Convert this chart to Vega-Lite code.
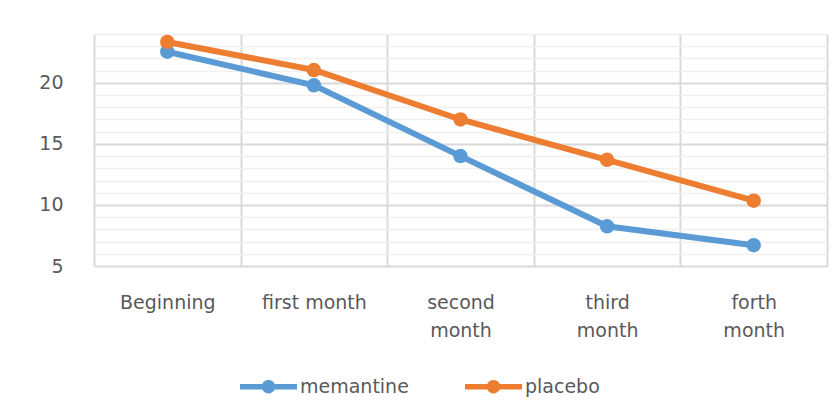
{
  "$schema": "https://vega.github.io/schema/vega-lite/v6.json",
  "width": 733,
  "height": 232,
  "autosize": "none",
  "padding": {"left": 94, "top": 34, "right": 12, "bottom": 143},
  "background": "white",
  "config": {"view": {"stroke": null}, "font": "DejaVu Sans"},
  "data": {
    "values": [
      {"period": "Beginning", "group": "memantine", "score": 22.55},
      {"period": "first month", "group": "memantine", "score": 19.8},
      {"period": "second month", "group": "memantine", "score": 14.0},
      {"period": "third month", "group": "memantine", "score": 8.25},
      {"period": "forth month", "group": "memantine", "score": 6.7},
      {"period": "Beginning", "group": "placebo", "score": 23.35},
      {"period": "first month", "group": "placebo", "score": 21.05},
      {"period": "second month", "group": "placebo", "score": 17.0},
      {"period": "third month", "group": "placebo", "score": 13.7},
      {"period": "forth month", "group": "placebo", "score": 10.35}
    ]
  },
  "encoding": {
    "x": {
      "field": "period",
      "type": "nominal",
      "sort": ["Beginning", "first month", "second month", "third month", "forth month"],
      "scale": {"type": "band", "paddingInner": 0, "paddingOuter": 0},
      "axis": {
        "title": null,
        "grid": true,
        "tickBand": "extent",
        "ticks": false,
        "domain": false,
        "labelAngle": 0,
        "labelFontSize": 19,
        "labelColor": "#595959",
        "labelPadding": 27,
        "labelLineHeight": 28,
        "labelOverlap": false,
        "labelFlush": false,
        "labelBound": false,
        "labelExpr": "indexof(['second month','third month','forth month'], datum.label) >= 0 ? split(datum.label, ' ') : datum.label",
        "gridColor": "#d9d9d9",
        "gridWidth": 2
      }
    },
    "y": {
      "field": "score",
      "type": "quantitative",
      "scale": {"domain": [5, 24], "nice": false, "zero": false},
      "axis": {
        "title": null,
        "values": [5, 6, 7, 8, 9, 10, 11, 12, 13, 14, 15, 16, 17, 18, 19, 20, 21, 22, 23, 24],
        "ticks": false,
        "domain": false,
        "labelExpr": "datum.value % 5 === 0 ? datum.label : ''",
        "labelFontSize": 19,
        "labelColor": "#595959",
        "labelPadding": 31,
        "labelOverlap": false,
        "gridColor": {"condition": {"test": "datum.value % 5 === 0", "value": "#d9d9d9"}, "value": "#efefef"},
        "gridWidth": {"condition": {"test": "datum.value % 5 === 0", "value": 2}, "value": 1.5}
      }
    },
    "color": {
      "field": "group",
      "type": "nominal",
      "scale": {"domain": ["memantine", "placebo"], "range": ["#5B9BD5", "#ED7D31"]},
      "legend": {
        "title": null,
        "orient": "none",
        "direction": "horizontal",
        "legendX": 146,
        "legendY": 324,
        "symbolType": "M-1,-0.1H-0.22A0.245,0.245,0,0,1,0.22,-0.1H1V0.1H0.22A0.245,0.245,0,0,1,-0.22,0.1H-1Z",
        "symbolSize": 3249,
        "symbolStrokeWidth": 0,
        "symbolOpacity": 1,
        "labelFontSize": 19,
        "labelColor": "#595959",
        "labelOffset": 3,
        "columnPadding": 56
      }
    }
  },
  "layer": [
    {"mark": {"type": "line", "strokeWidth": 6}},
    {"mark": {"type": "point", "filled": true, "size": 210, "opacity": 1}}
  ]
}
